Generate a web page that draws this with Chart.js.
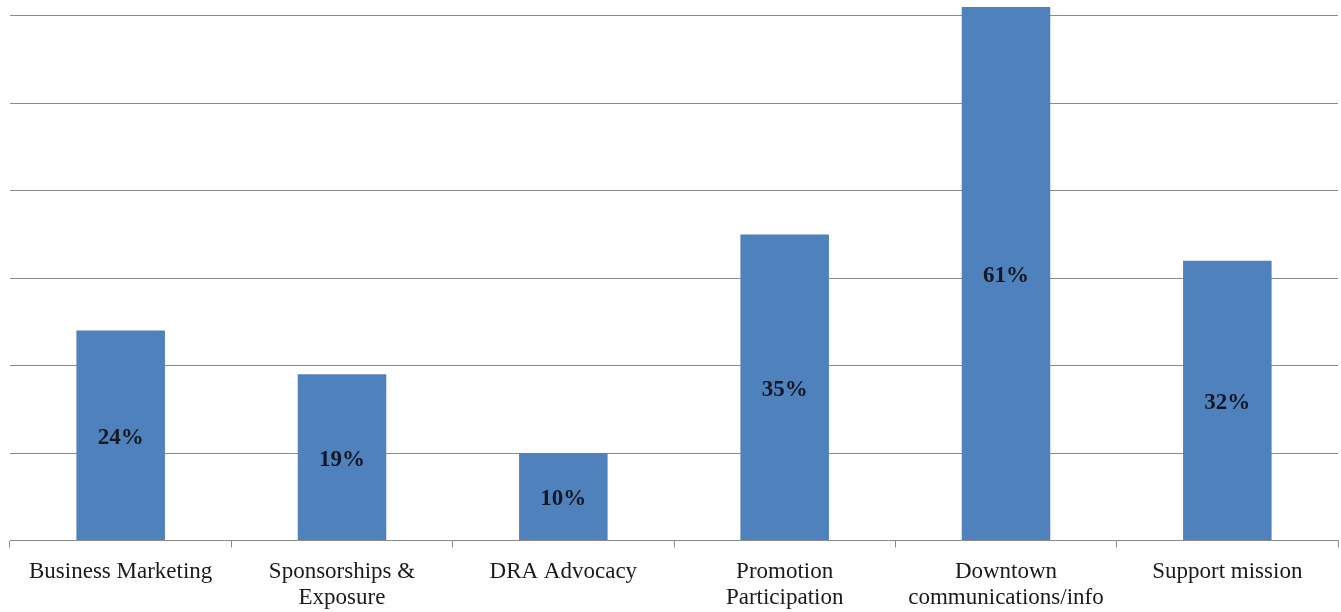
<!DOCTYPE html>
<html>
<head>
<meta charset="utf-8">
<script src="https://cdn.jsdelivr.net/npm/chart.js@4"></script>
<style>
  html, body { margin: 0; padding: 0; background: #ffffff; }
  #wrap { width: 1341px; height: 612px; position: relative; }
</style>
</head>
<body>
<div id="wrap"><canvas id="c" width="1341" height="612"></canvas></div>
<script>
// Survey categories (two-line labels where the text wraps)
const categories = [
  "Business Marketing",
  ["Sponsorships &", "Exposure"],
  "DRA Advocacy",
  ["Promotion", "Participation"],
  ["Downtown", "communications/info"],
  "Support mission"
];
// Share of respondents, in percent
const shares = [24, 19, 10, 35, 61, 32];
// Gridline positions on the value axis
const gridValues = [0, 10, 20, 30, 40, 50, 60];

const SERIF = "'Liberation Serif', 'DejaVu Serif', serif";

// Writes each bar's value in the middle of the bar
const barValueLabels = {
  id: 'barValueLabels',
  afterDatasetsDraw(chart) {
    const ctx = chart.ctx;
    const meta = chart.getDatasetMeta(0);
    ctx.save();
    ctx.font = "bold 23px " + SERIF;
    ctx.fillStyle = '#141824';
    ctx.textAlign = 'center';
    ctx.textBaseline = 'middle';
    meta.data.forEach((bar, i) => {
      const p = bar.getProps(['x', 'y', 'base'], true);
      ctx.fillText(shares[i] + '%', p.x, (p.y + p.base) / 2 + 3);
    });
    ctx.restore();
  }
};

new Chart(document.getElementById('c'), {
  type: 'bar',
  data: {
    labels: categories,
    datasets: [{
      data: shares,
      backgroundColor: '#4f81bd',
      borderWidth: 0,
      barPercentage: 0.4,
      categoryPercentage: 1.0
    }]
  },
  options: {
    responsive: false,
    animation: false,
    layout: { padding: { left: 10, right: 3, top: 0, bottom: 0 } },
    plugins: {
      legend: { display: false },
      tooltip: { enabled: false }
    },
    scales: {
      x: {
        offset: true,
        grid: {
          offset: true,
          drawOnChartArea: false,
          drawTicks: true,
          tickLength: 7,
          color: '#8c8c8c',
          lineWidth: 1
        },
        border: { display: true, color: '#8c8c8c', width: 1 },
        ticks: {
          color: '#1a1a1a',
          font: { family: SERIF, size: 23, lineHeight: 1.13 },
          padding: 11,
          maxRotation: 0,
          autoSkip: false
        },
        afterFit(scale) { scale.height = 71.5; }
      },
      y: {
        min: 0,
        max: 61.8,
        afterBuildTicks(scale) {
          scale.ticks = gridValues.map(v => ({ value: v }));
        },
        grid: {
          color: '#8c8c8c',
          lineWidth: 1,
          drawTicks: false
        },
        border: { display: false },
        ticks: { display: false },
        afterFit(scale) { scale.width = 0; }
      }
    }
  },
  plugins: [barValueLabels]
});
</script>
</body>
</html>
